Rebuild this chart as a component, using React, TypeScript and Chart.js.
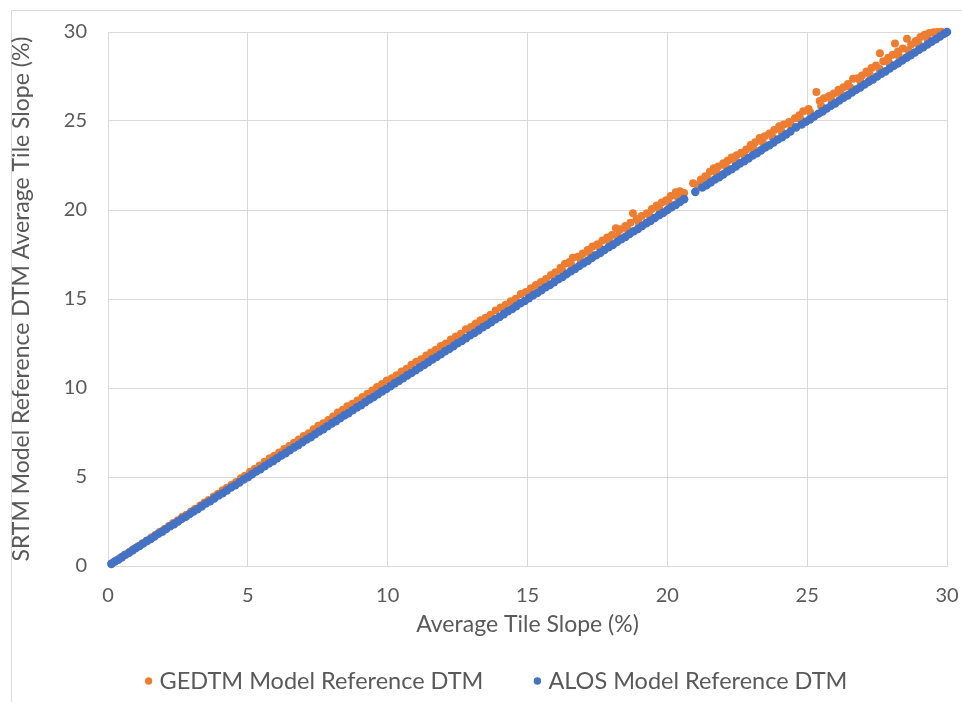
import { useEffect, useRef } from 'react';
import { Chart, registerables } from 'chart.js';

Chart.register(...registerables);

const FONT = 'Lato, "Open Sans", sans-serif';
const TEXT_COLOR = '#595959';
const GRID_COLOR = '#d9d9d9';

const seriesNames = ['GEDTM Model Reference DTM', 'ALOS Model Reference DTM'];
const seriesColors = ['#ED7D31', '#4472C4'];
const xTitle = 'Average Tile Slope (%)';
const yTitle = 'SRTM Model Reference DTM Average Tile Slope (%)';
const axisMin = 0;
const axisMax = 30;
const axisStep = 5;

// GEDTM Model Reference DTM: [average tile slope, SRTM slope]
const gedtmPoints: [number, number][] = [
  [0.15, 0.15], [0.3, 0.31], [0.45, 0.46], [0.6, 0.62], [0.78, 0.8], [0.92, 0.95], [1.08, 1.11], [1.22, 1.26],
  [1.38, 1.42], [1.55, 1.6], [1.7, 1.75], [1.86, 1.92], [2.02, 2.08], [2.18, 2.25], [2.33, 2.41], [2.5, 2.57],
  [2.66, 2.77], [2.8, 2.88], [2.97, 3.06], [3.12, 3.22], [3.3, 3.4], [3.45, 3.57], [3.6, 3.71], [3.78, 3.9],
  [3.93, 4.06], [4.1, 4.25], [4.25, 4.39], [4.42, 4.57], [4.58, 4.72], [4.75, 4.93], [4.9, 5.07],
  [5.08, 5.3], [5.25, 5.46], [5.42, 5.64], [5.6, 5.86], [5.78, 6.05], [5.95, 6.2], [6.12, 6.38], [6.3, 6.58],
  [6.48, 6.74], [6.65, 6.93], [6.82, 7.1], [7.0, 7.3], [7.18, 7.46], [7.35, 7.68], [7.52, 7.88], [7.7, 8.02],
  [7.88, 8.2], [8.05, 8.4], [8.22, 8.62], [8.4, 8.78], [8.56, 8.98], [8.74, 9.12], [8.92, 9.3], [9.1, 9.5],
  [9.28, 9.68], [9.45, 9.86], [9.62, 10.05], [9.8, 10.22], [9.97, 10.42],
  [10.15, 10.55], [10.32, 10.72], [10.5, 10.92], [10.68, 11.08], [10.85, 11.3], [11.02, 11.48], [11.2, 11.62],
  [11.38, 11.82], [11.55, 12.0], [11.72, 12.15], [11.9, 12.36], [12.08, 12.5], [12.26, 12.72], [12.44, 12.9],
  [12.62, 13.05], [12.8, 13.3], [12.98, 13.42], [13.15, 13.62], [13.32, 13.8], [13.5, 13.95], [13.68, 14.12],
  [13.86, 14.35], [14.04, 14.52], [14.22, 14.68], [14.4, 14.88], [14.58, 15.02], [14.76, 15.28], [14.94, 15.4],
  [15.12, 15.6], [15.3, 15.78], [15.48, 15.96], [15.66, 16.12], [15.84, 16.35], [16.0, 16.5],
  [16.18, 16.75], [16.34, 16.98], [16.5, 17.08], [16.62, 17.32], [16.8, 17.38], [16.98, 17.56], [17.15, 17.75],
  [17.32, 17.95], [17.5, 18.08], [17.68, 18.28], [17.85, 18.46], [18.02, 18.6], [18.16, 18.98], [18.32, 18.92],
  [18.5, 19.1], [18.68, 19.28], [18.77, 19.82], [18.9, 19.5], [19.08, 19.66], [19.27, 19.82], [19.45, 20.05],
  [19.62, 20.25], [19.8, 20.42], [19.96, 20.55], [20.12, 20.78], [20.3, 21.0], [20.45, 21.06],
  [16.26, 16.56], [16.58, 16.9], [16.9, 17.2], [17.24, 17.55], [17.58, 17.9], [17.92, 18.24], [18.24, 18.56],
  [18.58, 18.9], [18.98, 19.3], [19.36, 19.68], [19.72, 20.04], [20.06, 20.38], [20.38, 20.7], [20.6, 20.95],
  [20.92, 21.5], [21.2, 21.72], [21.36, 21.9], [21.52, 22.15], [21.66, 22.35], [21.82, 22.45], [22.0, 22.62],
  [22.16, 22.78], [22.3, 22.95], [22.48, 23.08], [22.64, 23.22], [22.82, 23.4], [22.98, 23.65], [23.14, 23.8],
  [23.3, 24.05], [23.48, 24.15], [23.65, 24.3], [23.82, 24.5], [24.0, 24.7], [24.16, 24.8], [24.35, 24.95],
  [24.56, 25.15], [24.72, 25.32], [24.86, 25.55], [25.05, 25.68], [25.33, 26.63], [25.45, 26.12], [25.6, 26.28],
  [25.78, 26.4], [25.95, 26.55], [26.12, 26.75], [26.3, 26.9], [26.46, 27.08], [26.64, 27.38], [26.8, 27.4],
  [26.96, 27.55], [27.12, 27.78], [27.3, 27.98], [27.46, 28.12], [27.6, 28.8], [27.72, 28.36], [27.9, 28.55],
  [28.06, 28.72], [28.14, 29.36], [28.25, 28.9], [28.42, 29.08], [28.57, 29.62], [28.72, 29.3], [28.88, 29.5],
  [29.05, 29.72], [29.2, 29.84], [29.36, 29.95], [29.52, 29.98], [29.66, 30.0], [29.8, 30.02],
  [21.08, 21.4], [21.44, 21.76], [21.76, 22.08], [22.1, 22.42], [22.42, 22.74], [22.76, 23.08], [23.08, 23.42],
  [23.42, 23.76], [23.76, 24.1], [24.08, 24.42], [24.42, 24.76], [24.76, 25.1], [25.12, 25.46], [25.5, 25.84],
  [25.86, 26.2], [26.2, 26.54], [26.54, 26.88], [26.9, 27.25], [27.24, 27.6], [27.58, 27.94], [27.92, 28.28],
  [28.28, 28.64], [28.62, 28.98], [28.98, 29.34], [29.3, 29.64], [29.6, 29.92],
];

// ALOS Model Reference DTM: [average tile slope, SRTM slope]
const alosPoints: [number, number][] = [
  [0.12, 0.12], [0.24, 0.25], [0.37, 0.36], [0.5, 0.5], [0.62, 0.63], [0.75, 0.74], [0.88, 0.88], [1.0, 1.01],
  [1.13, 1.12], [1.26, 1.26], [1.4, 1.41], [1.53, 1.52], [1.66, 1.66], [1.8, 1.81], [1.94, 1.93], [2.08, 2.08],
  [2.22, 2.23], [2.36, 2.35], [2.5, 2.5], [2.64, 2.65], [2.78, 2.77], [2.92, 2.92], [3.06, 3.07], [3.2, 3.19],
  [3.35, 3.35], [3.5, 3.51], [3.65, 3.64], [3.8, 3.8], [3.95, 3.96], [4.1, 4.09], [4.25, 4.25], [4.4, 4.41],
  [4.55, 4.54], [4.7, 4.7], [4.85, 4.86], [5.0, 4.99], [5.15, 5.15], [5.3, 5.31], [5.45, 5.44], [5.6, 5.6],
  [5.75, 5.76], [5.9, 5.89], [6.05, 6.05], [6.2, 6.21], [6.35, 6.34], [6.5, 6.5], [6.65, 6.66], [6.8, 6.79],
  [6.95, 6.95], [7.1, 7.11], [7.25, 7.24], [7.4, 7.4], [7.55, 7.56], [7.7, 7.69], [7.85, 7.85], [8.0, 8.01],
  [8.15, 8.14], [8.3, 8.3], [8.45, 8.46], [8.6, 8.59], [8.75, 8.75], [8.9, 8.91], [9.05, 9.04], [9.2, 9.2],
  [9.35, 9.36], [9.5, 9.49], [9.65, 9.65], [9.8, 9.81], [9.95, 9.94], [10.1, 10.1], [10.25, 10.26], [10.4, 10.39],
  [10.55, 10.55], [10.7, 10.71], [10.85, 10.84], [11.0, 11.0], [11.15, 11.16], [11.3, 11.29], [11.45, 11.45],
  [11.6, 11.61], [11.75, 11.74], [11.9, 11.9], [12.05, 12.06], [12.2, 12.19], [12.35, 12.35], [12.5, 12.51],
  [12.65, 12.64], [12.8, 12.8], [12.95, 12.96], [13.1, 13.09], [13.25, 13.25], [13.4, 13.41], [13.55, 13.54],
  [13.7, 13.7], [13.85, 13.86], [14.0, 13.99], [14.15, 14.15], [14.3, 14.31], [14.45, 14.44], [14.6, 14.6],
  [14.75, 14.76], [14.9, 14.89], [15.05, 15.05], [15.2, 15.21], [15.35, 15.34], [15.5, 15.5], [15.65, 15.66],
  [15.8, 15.79], [15.95, 15.95], [16.1, 16.11], [16.25, 16.24], [16.4, 16.4], [16.55, 16.56], [16.7, 16.69],
  [16.85, 16.85], [17.0, 17.01], [17.15, 17.14], [17.3, 17.3], [17.45, 17.46], [17.6, 17.59], [17.75, 17.75],
  [17.9, 17.91], [18.05, 18.04], [18.2, 18.2], [18.35, 18.36], [18.5, 18.49], [18.65, 18.65], [18.8, 18.81],
  [18.95, 18.94], [19.1, 19.1], [19.25, 19.26], [19.4, 19.39], [19.55, 19.55], [19.7, 19.71], [19.85, 19.84],
  [20.0, 20.0], [20.15, 20.16], [20.3, 20.29], [20.45, 20.45], [20.6, 20.61], [21.0, 21.02], [21.25, 21.26],
  [21.4, 21.39], [21.55, 21.55], [21.7, 21.71], [21.85, 21.84], [22.0, 22.0], [22.15, 22.16], [22.3, 22.29],
  [22.45, 22.45], [22.6, 22.62], [22.75, 22.74], [22.9, 22.9], [23.05, 23.06], [23.2, 23.19], [23.35, 23.35],
  [23.5, 23.51], [23.65, 23.64], [23.8, 23.8], [23.95, 23.96], [24.1, 24.09], [24.25, 24.25], [24.4, 24.41],
  [24.6, 24.64], [24.8, 24.8], [24.95, 24.96], [25.1, 25.09], [25.25, 25.25], [25.4, 25.41], [25.55, 25.54],
  [25.7, 25.7], [25.85, 25.86], [26.0, 25.99], [26.15, 26.15], [26.3, 26.31], [26.45, 26.44], [26.6, 26.6],
  [26.75, 26.76], [26.9, 26.89], [27.05, 27.05], [27.2, 27.21], [27.35, 27.34], [27.5, 27.5], [27.65, 27.66],
  [27.8, 27.79], [27.95, 27.95], [28.1, 28.11], [28.25, 28.24], [28.4, 28.4], [28.55, 28.56], [28.7, 28.69],
  [28.85, 28.85], [29.0, 29.01], [29.15, 29.14], [29.3, 29.3], [29.45, 29.46], [29.6, 29.59], [29.75, 29.75],
  [29.9, 29.9], [30.0, 30.0],
];

const legendPlugin = {
  id: 'bottomLegend',
  afterDraw(chart: any) {
    const ctx: CanvasRenderingContext2D = chart.ctx;
    ctx.save();
    ctx.font = `23.5px ${FONT}`;
    ctx.textBaseline = 'middle';
    ctx.textAlign = 'left';
    const y = 681;
    const r = 3.7;
    const gap = 11;
    const spacing = 54;
    const widths = seriesNames.map((n) => ctx.measureText(n).width);
    const total = r + gap + widths[0] + spacing + gap + widths[1] + r;
    const centerX = 498;
    let cx = centerX - total / 2 + r;
    seriesNames.forEach((name, i) => {
      ctx.fillStyle = seriesColors[i];
      ctx.beginPath();
      ctx.arc(cx, y, r, 0, Math.PI * 2);
      ctx.fill();
      ctx.fillStyle = TEXT_COLOR;
      ctx.fillText(name, cx + gap, y);
      cx = cx + gap + widths[i] + spacing;
    });
    ctx.restore();
  },
};

export default function App() {
  const ref = useRef<HTMLCanvasElement>(null);
  useEffect(() => {
    const tickFont = { family: FONT, size: 20 };
    const titleFont = { family: FONT, size: 23 };
    const chart = new Chart(ref.current as HTMLCanvasElement, {
      type: 'scatter',
      data: {
        datasets: [
          {
            label: seriesNames[0],
            data: gedtmPoints.map(([x, y]) => ({ x, y })),
            backgroundColor: seriesColors[0],
            borderColor: seriesColors[0],
            borderWidth: 0,
            pointRadius: 4,
            order: 2,
            clip: false,
          },
          {
            label: seriesNames[1],
            data: alosPoints.map(([x, y]) => ({ x, y })),
            backgroundColor: seriesColors[1],
            borderColor: seriesColors[1],
            borderWidth: 0,
            pointRadius: 4.3,
            order: 1,
            clip: false,
          },
        ],
      },
      options: {
        responsive: false,
        animation: false,
        devicePixelRatio: 1,
        layout: { padding: { top: 32, right: 15, bottom: 56, left: 0 } },
        plugins: { legend: { display: false }, tooltip: { enabled: false } },
        scales: {
          x: {
            type: 'linear',
            min: axisMin,
            max: axisMax,
            ticks: { stepSize: axisStep, font: tickFont, color: TEXT_COLOR, padding: 18 },
            grid: { color: GRID_COLOR, drawTicks: false },
            border: { color: GRID_COLOR },
            title: { display: true, text: xTitle, font: titleFont, color: TEXT_COLOR, padding: { top: 0, bottom: 8 } },
            afterFit: (s: any) => {
              s.height = 80;
              s.paddingLeft = 0;
              s.paddingRight = 0;
            },
          },
          y: {
            type: 'linear',
            min: axisMin,
            max: axisMax,
            ticks: { stepSize: axisStep, font: tickFont, color: TEXT_COLOR, padding: 21 },
            grid: { color: GRID_COLOR, drawTicks: false },
            border: { color: GRID_COLOR },
            title: { display: true, text: yTitle, font: titleFont, color: TEXT_COLOR, padding: { top: 8, bottom: 0 } },
            afterFit: (s: any) => {
              s.width = 108;
              s.paddingTop = 0;
              s.paddingBottom = 0;
            },
          },
        },
      },
      plugins: [legendPlugin],
    } as any);
    return () => chart.destroy();
  }, []);

  return (
    <div style={{ position: 'fixed', left: 0, top: 0, width: 962, height: 702, overflow: 'hidden', background: '#fff' }}>
      <div style={{ position: 'absolute', left: 11, top: 10, width: 1000, height: 1000, border: '1px solid #d9d9d9' }} />
      <canvas ref={ref} width={962} height={702} style={{ position: 'absolute', left: 0, top: 0 }} />
    </div>
  );
}
